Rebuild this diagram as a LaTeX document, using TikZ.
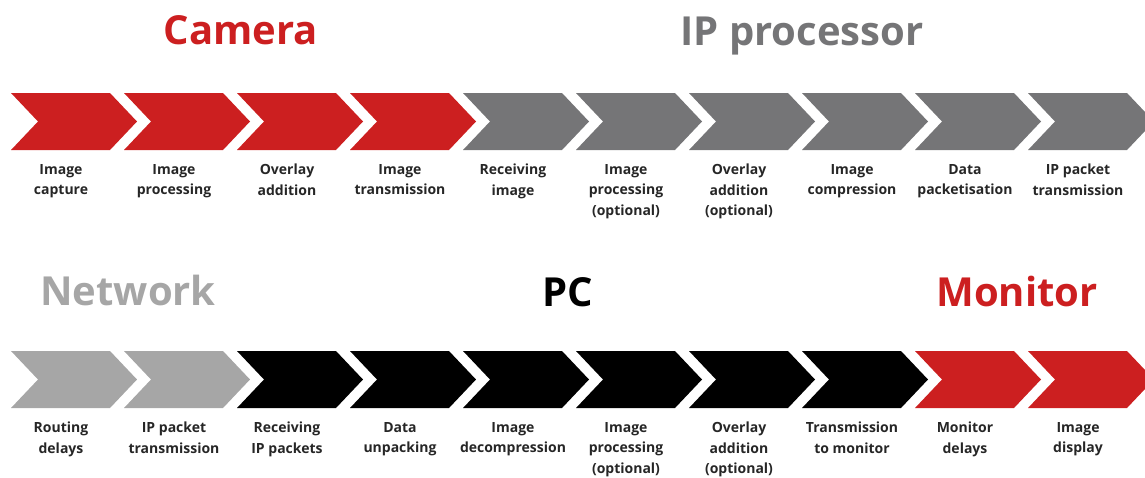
\documentclass[tikz,border=0pt]{standalone}
\usepackage{fontspec}
\setmainfont{Open Sans}
\newfontfamily\headfont{Open Sans}
\newfontfamily\lblfont{Open Sans}
\definecolor{cred}{HTML}{CC1F20}
\definecolor{cdark}{HTML}{757577}
\definecolor{clight}{HTML}{A6A6A6}
\definecolor{cblack}{HTML}{000000}
\tikzset{
  heading/.style={anchor=base, inner sep=0pt, font=\headfont\bfseries\fontsize{40}{44}\selectfont},
  lbl/.style={anchor=north, inner sep=0pt, align=center, text=black!85, font=\lblfont\bfseries\fontsize{14}{20.5}\selectfont},
}
\newcommand\chev[4]{% left x, top y, colour, name
  \fill[#3] (#1,#2) -- ++(99,0) -- ++(27,28.5) -- ++(-27,28.5) -- ++(-99,0) -- ++(27,-28.5) -- cycle;
  \coordinate (#4) at (#1+50,#2+71);
}
\begin{document}
\begin{tikzpicture}[x=1pt,y=-1pt]
\useasboundingbox (0,0) rectangle (1145,477);
\clip (0,0) rectangle (1145,477);
% headings
\node[heading, text=cred] (hcam) at (241,44) {Camera};
\node[heading, text=cdark] (hip) at (802,45) {IP processor};
\node[heading, text=clight] (hnet) at (128,305) {Network};
\node[heading, text=cblack] (hpc) at (568,306) {PC};
\node[heading, text=cred] (hmon) at (1017,306) {Monitor};
% row 1
\chev{11}{93}{cred}{a1}
\chev{124}{93}{cred}{a2}
\chev{237}{93}{cred}{a3}
\chev{350}{93}{cred}{a4}
\chev{463}{93}{cdark}{a5}
\chev{576}{93}{cdark}{a6}
\chev{689}{93}{cdark}{a7}
\chev{802}{93}{cdark}{a8}
\chev{915}{93}{cdark}{a9}
\chev{1028}{93}{cdark}{a10}
% row 2
\chev{11}{351}{clight}{b1}
\chev{124}{351}{clight}{b2}
\chev{237}{351}{cblack}{b3}
\chev{350}{351}{cblack}{b4}
\chev{463}{351}{cblack}{b5}
\chev{576}{351}{cblack}{b6}
\chev{689}{351}{cblack}{b7}
\chev{802}{351}{cblack}{b8}
\chev{915}{351}{cred}{b9}
\chev{1028}{351}{cred}{b10}
% labels row 1
\node[lbl] (la1) at (a1) {Image\\capture};
\node[lbl] (la2) at (a2) {Image\\processing};
\node[lbl] (la3) at (a3) {Overlay\\addition};
\node[lbl] (la4) at (a4) {Image\\transmission};
\node[lbl] (la5) at (a5) {Receiving\\image};
\node[lbl] (la6) at (a6) {Image\\processing\\(optional)};
\node[lbl] (la7) at (a7) {Overlay\\addition\\(optional)};
\node[lbl] (la8) at (a8) {Image\\compression};
\node[lbl] (la9) at (a9) {Data\\packetisation};
\node[lbl] (la10) at (a10) {IP packet\\transmission};
% labels row 2
\node[lbl] (lb1) at (b1) {Routing\\delays};
\node[lbl] (lb2) at (b2) {IP packet\\transmission};
\node[lbl] (lb3) at (b3) {Receiving\\IP packets};
\node[lbl] (lb4) at (b4) {Data\\unpacking};
\node[lbl] (lb5) at (b5) {Image\\decompression};
\node[lbl] (lb6) at (b6) {Image\\processing\\(optional)};
\node[lbl] (lb7) at (b7) {Overlay\\addition\\(optional)};
\node[lbl] (lb8) at (b8) {Transmission\\to monitor};
\node[lbl] (lb9) at (b9) {Monitor\\delays};
\node[lbl] (lb10) at (b10) {Image\\display};
\end{tikzpicture}
\end{document}
